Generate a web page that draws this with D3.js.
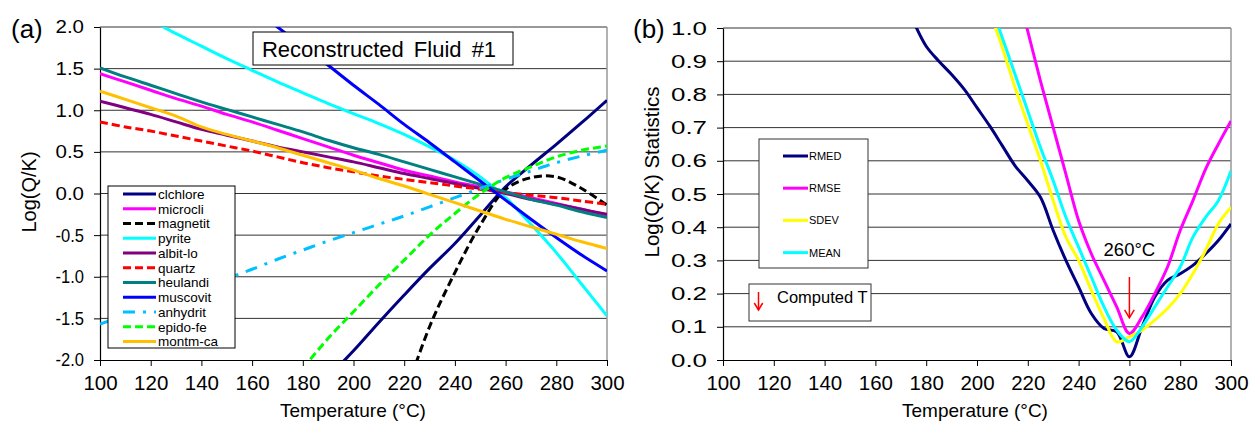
<!DOCTYPE html>
<html>
<head>
<meta charset="utf-8">
<script src="https://cdn.jsdelivr.net/npm/d3@7"></script>
<style>
  body { margin: 0; background: #fff; }
  text { font-family: "Liberation Sans", Arial, sans-serif; fill: #000; }
</style>
</head>
<body>
<svg id="chart" width="1250" height="425"></svg>
<script>
// ---------- data: panel (a), Log(Q/K) per mineral, T = 100..300 step 10 ----------
var tempA = [100, 110, 120, 130, 140, 150, 160, 170, 180, 190, 200, 210, 220, 230, 240, 250, 260, 270, 280, 290, 300];

var clchlore = [null, null, null, null, null, null, null, null, null, -2.2, -1.89, -1.55, -1.22, -0.90, -0.60, -0.26, 0.08, 0.34, 0.59, 0.85, 1.12];
var microcli = [1.44, 1.34, 1.24, 1.14, 1.05, 0.95, 0.86, 0.76, 0.66, 0.56, 0.46, 0.37, 0.28, 0.21, 0.14, 0.08, 0.02, -0.05, -0.12, -0.19, -0.26];
var magnetit = [null, null, null, null, null, null, null, null, null, null, null, null, -2.45, -1.6, -0.95, -0.38, 0.05, 0.19, 0.20, 0.06, -0.14];
var pyrite = [null, null, 2.08, 1.92, 1.77, 1.62, 1.48, 1.34, 1.21, 1.08, 0.96, 0.84, 0.71, 0.56, 0.40, 0.20, -0.05, -0.37, -0.71, -1.09, -1.47];
var albitLo = [1.11, 1.03, 0.95, 0.86, 0.77, 0.70, 0.63, 0.56, 0.50, 0.44, 0.38, 0.31, 0.24, 0.18, 0.12, 0.06, 0.0, -0.07, -0.13, -0.19, -0.25];
var quartz = [0.86, 0.80, 0.75, 0.69, 0.63, 0.57, 0.51, 0.44, 0.37, 0.31, 0.26, 0.21, 0.17, 0.13, 0.09, 0.05, 0.01, -0.02, -0.05, -0.09, -0.13];
var heulandi = [1.51, 1.40, 1.30, 1.20, 1.10, 1.01, 0.92, 0.83, 0.74, 0.64, 0.55, 0.47, 0.38, 0.29, 0.20, 0.11, 0.02, -0.07, -0.14, -0.22, -0.29];
var muscovit = [null, null, null, null, null, null, 2.23, 2.0, 1.77, 1.54, 1.30, 1.07, 0.83, 0.61, 0.38, 0.15, -0.08, -0.31, -0.53, -0.74, -0.93];
var anhydrit = [-1.57, -1.46, -1.35, -1.24, -1.13, -1.02, -0.91, -0.79, -0.68, -0.57, -0.47, -0.37, -0.27, -0.16, -0.05, 0.06, 0.17, 0.27, 0.37, 0.45, 0.52];
var epidoFe = [null, null, null, null, null, null, null, null, -2.1, -1.74, -1.42, -1.1, -0.80, -0.50, -0.24, 0.0, 0.19, 0.32, 0.44, 0.52, 0.57];
var montmCa = [1.23, 1.13, 1.03, 0.93, 0.80, 0.71, 0.63, 0.55, 0.46, 0.37, 0.28, 0.18, 0.09, -0.01, -0.11, -0.21, -0.31, -0.40, -0.49, -0.58, -0.66];

// ---------- data: panel (b), statistics, T = 175..300 step 5 ----------
var tempB = [175, 180, 185, 190, 195, 200, 205, 210, 215, 220, 225, 230, 235, 240, 245, 250, 255, 260, 265, 270, 275, 280, 285, 290, 295, 300];

var rmed = [1.02, 0.945, 0.90, 0.86, 0.815, 0.76, 0.705, 0.645, 0.585, 0.54, 0.49, 0.39, 0.30, 0.22, 0.14, 0.095, 0.085, 0.01, 0.10, 0.19, 0.24, 0.26, 0.285, 0.32, 0.36, 0.41];
var rmse = [null, null, null, null, null, null, null, null, 1.14, 0.99, 0.84, 0.70, 0.56, 0.42, 0.32, 0.24, 0.16, 0.08, 0.13, 0.20, 0.28, 0.39, 0.48, 0.575, 0.65, 0.72];
var sdev = [null, null, null, null, null, null, 1.05, 0.94, 0.82, 0.71, 0.60, 0.48, 0.37, 0.30, 0.21, 0.125, 0.055, 0.07, 0.09, 0.12, 0.155, 0.20, 0.26, 0.33, 0.41, 0.46];
var mean = [null, null, null, null, null, null, 1.08, 0.97, 0.86, 0.75, 0.64, 0.54, 0.43, 0.34, 0.25, 0.16, 0.09, 0.055, 0.10, 0.16, 0.22, 0.28, 0.37, 0.43, 0.48, 0.57];

// ticks
var xTicks = [100, 120, 140, 160, 180, 200, 220, 240, 260, 280, 300];
var yTicksA = [-2.0, -1.5, -1.0, -0.5, 0.0, 0.5, 1.0, 1.5, 2.0];
var yTicksB = [0.0, 0.1, 0.2, 0.3, 0.4, 0.5, 0.6, 0.7, 0.8, 0.9, 1.0];
var computedT = 260;

// series styling (drawing order = legend order)
var seriesA = [
  { name: 'clchlore', values: clchlore, color: '#000080', dash: null },
  { name: 'microcli', values: microcli, color: '#FF00FF', dash: null },
  { name: 'magnetit', values: magnetit, color: '#000000', dash: '8,4' },
  { name: 'pyrite',   values: pyrite,   color: '#00FFFF', dash: null },
  { name: 'albit-lo', values: albitLo,  color: '#800080', dash: null },
  { name: 'quartz',   values: quartz,   color: '#FF0000', dash: '8,4' },
  { name: 'heulandi', values: heulandi, color: '#008080', dash: null },
  { name: 'muscovit', values: muscovit, color: '#0000FF', dash: null },
  { name: 'anhydrit', values: anhydrit, color: '#00C0FF', dash: '12,8,3,8' },
  { name: 'epido-fe', values: epidoFe,  color: '#00FF00', dash: '8,4' },
  { name: 'montm-ca', values: montmCa,  color: '#FFC000', dash: null }
];
var seriesB = [
  { name: 'RMED', values: rmed, color: '#000080' },
  { name: 'RMSE', values: rmse, color: '#FF00FF' },
  { name: 'SDEV', values: sdev, color: '#FFFF00' },
  { name: 'MEAN', values: mean, color: '#00FFFF' }
];

var svg = d3.select('#chart');
var defs = svg.append('defs');

// scales
var xA = d3.scaleLinear().domain([100, 300]).range([100, 607]);
var yA = d3.scaleLinear().domain([-2, 2]).range([360, 27]);
var xB = d3.scaleLinear().domain([100, 300]).range([723, 1231]);
var yB = d3.scaleLinear().domain([0, 1]).range([360, 28]);

/**
 * draw grid, border and the two axes of one panel
 */
function drawFrame(g, x, y, yTicks, yLabelFont, yLabelLen) {
  var x0 = x.range()[0], x1 = x.range()[1];
  var y0 = y.range()[0], y1 = y.range()[1];

  // horizontal grid lines
  g.selectAll('line.grid').data(yTicks.slice(1)).enter()
    .append('line')
    .attr('class', 'grid')
    .attr('x1', x0).attr('x2', x1)
    .attr('y1', function(d) { return y(d); })
    .attr('y2', function(d) { return y(d); })
    .style('stroke', '#333').style('stroke-width', 1);

  // right border (grey)
  g.append('line')
    .attr('x1', x1).attr('x2', x1).attr('y1', y1).attr('y2', y0)
    .style('stroke', '#999').style('stroke-width', 1.5);

  var ax = g.append('g')
    .attr('transform', 'translate(0,' + y0 + ')')
    .call(d3.axisBottom(x).tickValues(xTicks).tickSize(6).tickSizeOuter(0).tickPadding(6));
  ax.selectAll('text').attr('font-size', 20.5).attr('font-family', null).attr('dy', '0.9em');

  var ay = g.append('g')
    .attr('transform', 'translate(' + x0 + ',0)')
    .call(d3.axisLeft(y).tickValues(yTicks).tickSize(6).tickSizeOuter(0).tickPadding(10)
      .tickFormat(function(d) { return d.toFixed(1); }));
  ay.selectAll('text')
    .attr('font-size', yLabelFont).attr('font-family', null)
    .attr('textLength', yLabelLen).attr('lengthAdjust', 'spacingAndGlyphs')
    .text(function(d) { return d.toFixed(1); });

  g.selectAll('.domain').style('stroke', '#000').style('stroke-width', 1.2);
  g.selectAll('.tick line').style('stroke', '#000');
}

function addClip(id, x, y) {
  defs.append('clipPath').attr('id', id)
    .append('rect')
    .attr('x', x.range()[0]).attr('y', y.range()[1])
    .attr('width', x.range()[1] - x.range()[0])
    .attr('height', y.range()[0] - y.range()[1]);
}

function drawArrow(g, xp, yTop, yBot, head) {
  g.append('line').attr('x1', xp).attr('x2', xp).attr('y1', yTop).attr('y2', yBot)
    .style('stroke', '#FF0000').style('stroke-width', 1.5);
  g.append('path')
    .attr('d', 'M' + (xp - head * 0.6) + ',' + (yBot - head) + 'L' + xp + ',' + yBot + 'L' + (xp + head * 0.6) + ',' + (yBot - head))
    .style('fill', 'none').style('stroke', '#FF0000').style('stroke-width', 1.5);
}

// ===================== panel (a) =====================
var gA = svg.append('g');
drawFrame(gA, xA, yA, yTicksA, 18.5, 28.5);
addClip('clipA', xA, yA);

var lineA = d3.line()
  .defined(function(d) { return d[1] != null; })
  .x(function(d) { return xA(d[0]); })
  .y(function(d) { return yA(d[1]); })
  .curve(d3.curveCatmullRom.alpha(0.5));

gA.append('g').attr('clip-path', 'url(#clipA)')
  .selectAll('path').data(seriesA).enter()
  .append('path')
  .attr('d', function(s) { return lineA(tempA.map(function(t, i) { return [t, s.values[i]]; })); })
  .style('fill', 'none')
  .style('stroke', function(s) { return s.color; })
  .style('stroke-width', 3)
  .style('stroke-dasharray', function(s) { return s.dash; });

// title box
gA.append('rect').attr('x', 253).attr('y', 32).attr('width', 260).attr('height', 33)
  .style('fill', '#fff').style('stroke', '#000').style('stroke-width', 1);
gA.append('text').attr('x', 379).attr('y', 57).attr('text-anchor', 'middle')
  .attr('font-size', 22).attr('word-spacing', 4).text('Reconstructed Fluid #1');

// legend
var legA = gA.append('g');
legA.append('rect').attr('x', 108).attr('y', 186).attr('width', 127).attr('height', 162)
  .style('fill', '#fff').style('stroke', '#000').style('stroke-width', 1);
seriesA.forEach(function(s, i) {
  var ly = 194 + i * 14.75;
  legA.append('line').attr('x1', 123).attr('x2', 156).attr('y1', ly).attr('y2', ly)
    .style('stroke', s.color).style('stroke-width', 3).style('stroke-dasharray', s.dash);
  legA.append('text').attr('x', 158).attr('y', ly).attr('dy', '0.36em')
    .attr('font-size', 13.5).text(s.name);
});

// labels
svg.append('text').attr('x', 11).attr('y', 38).attr('font-size', 26).text('(a)');
svg.append('text').attr('transform', 'translate(36,192) rotate(-90)')
  .attr('text-anchor', 'middle').attr('font-size', 20).text('Log(Q/K)');
svg.append('text').attr('x', 353).attr('y', 417).attr('text-anchor', 'middle')
  .attr('font-size', 19).text('Temperature (°C)');

// ===================== panel (b) =====================
var gB = svg.append('g');
drawFrame(gB, xB, yB, yTicksB, 19, 36);
addClip('clipB', xB, yB);

var lineB = d3.line()
  .defined(function(d) { return d[1] != null; })
  .x(function(d) { return xB(d[0]); })
  .y(function(d) { return yB(d[1]); })
  .curve(d3.curveCatmullRom.alpha(0.5));

gB.append('g').attr('clip-path', 'url(#clipB)')
  .selectAll('path').data(seriesB).enter()
  .append('path')
  .attr('d', function(s) { return lineB(tempB.map(function(t, i) { return [t, s.values[i]]; })); })
  .style('fill', 'none')
  .style('stroke', function(s) { return s.color; })
  .style('stroke-width', 3);

// legend
var legB = gB.append('g');
legB.append('rect').attr('x', 759).attr('y', 139).attr('width', 109).attr('height', 129)
  .style('fill', '#fff').style('stroke', '#333').style('stroke-width', 1);
seriesB.forEach(function(s, i) {
  var ly = 156 + i * 32.2;
  legB.append('line').attr('x1', 783).attr('x2', 808).attr('y1', ly).attr('y2', ly)
    .style('stroke', s.color).style('stroke-width', 3);
  legB.append('text').attr('x', 809).attr('y', ly).attr('dy', '0.36em')
    .attr('font-size', 11).text(s.name);
});

// "Computed T" key
gB.append('rect').attr('x', 749).attr('y', 284).attr('width', 122).attr('height', 37)
  .style('fill', '#fff').style('stroke', '#333').style('stroke-width', 1);
drawArrow(gB, 758.5, 292, 310, 7);
gB.append('text').attr('x', 777).attr('y', 303).attr('font-size', 16.5).text('Computed T');

// computed temperature marker
drawArrow(gB, xB(computedT), yB(0.25), yB(0.127), 8);
gB.append('text').attr('x', xB(computedT)).attr('y', 255.5).attr('text-anchor', 'middle')
  .attr('font-size', 18.5).text(computedT + '°C');

// labels
svg.append('text').attr('x', 633).attr('y', 38).attr('font-size', 26).text('(b)');
svg.append('text').attr('transform', 'translate(659,172) rotate(-90)')
  .attr('text-anchor', 'middle').attr('font-size', 20.5).text('Log(Q/K) Statistics');
svg.append('text').attr('x', 975).attr('y', 417).attr('text-anchor', 'middle')
  .attr('font-size', 19).text('Temperature (°C)');
</script>
</body>
</html>
